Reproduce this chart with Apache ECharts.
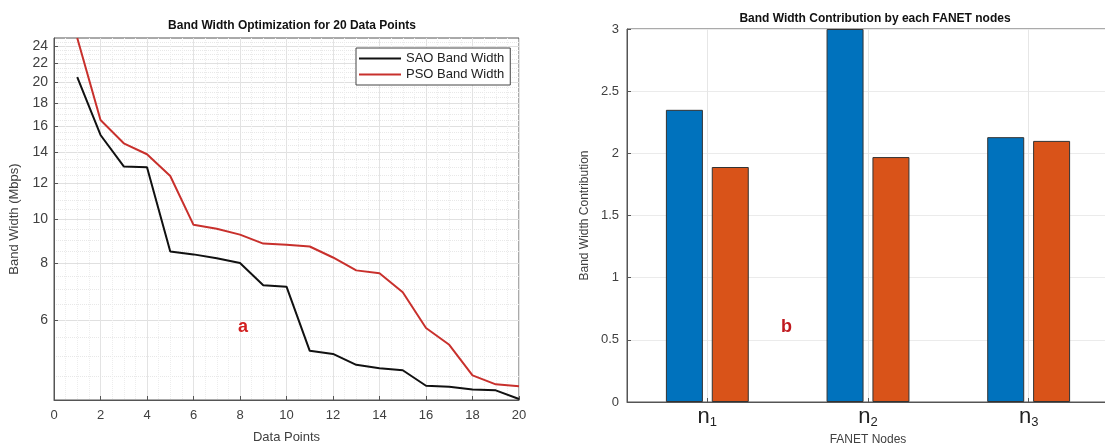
<!DOCTYPE html>
<html>
<head>
<meta charset="utf-8">
<script src="https://cdn.jsdelivr.net/npm/echarts@6/dist/echarts.min.js"></script>
<style>
  html, body { margin: 0; padding: 0; background: #fff; }
  #main { width: 1105px; height: 446px; }
</style>
</head>
<body>
<div id="main"></div>
<script>
// left chart: band width per data point (log y)
var dataPoints = [1, 2, 3, 4, 5, 6, 7, 8, 9, 10, 11, 12, 13, 14, 15, 16, 17, 18, 19, 20];
var saoBand = [20.5, 15.3, 13.05, 13.0, 8.48, 8.36, 8.2, 8.0, 7.15, 7.1, 5.13, 5.05, 4.78, 4.7, 4.65, 4.3, 4.28, 4.22, 4.2, 4.02];
var psoBand = [25, 16.5, 14.67, 13.88, 12.43, 9.71, 9.52, 9.24, 8.83, 8.78, 8.7, 8.23, 7.71, 7.6, 6.9, 5.76, 5.29, 4.53, 4.33, 4.29];
var yTicksLeft = [6, 8, 10, 12, 14, 16, 18, 20, 22, 24];

// right chart: contribution per FANET node
var nodes = ["n1", "n2", "n3"];
var saoContrib = [2.35, 3.0, 2.13];
var psoContrib = [1.89, 1.97, 2.1];

var yMinorLeft = [];
for (var v = 4.5; v < 25; v += 0.5) {
  if (yTicksLeft.indexOf(v) < 0) yMinorLeft.push(v);
}

var font = "Liberation Sans, Arial, sans-serif";
var txt = "#404040";

(function () {
  var myChart = echarts.init(document.getElementById("main"));

  function pairs(vals) {
    return vals.map(function (y, i) {
      return [dataPoints[i], y];
    });
  }
  function nodePairs(vals) {
    return vals.map(function (y, i) {
      return [i + 1, y];
    });
  }

  var option = {
    animation: false,
    textStyle: { fontFamily: font },
    title: [
      {
        text: "Band Width Optimization for 20 Data Points",
        left: 287,
        top: 15,
        textAlign: "center",
        textStyle: { fontSize: 12, fontWeight: "bold", color: "#111", fontFamily: font },
      },
      {
        text: "Band Width Contribution by each FANET nodes",
        left: 870,
        top: 8,
        textAlign: "center",
        textStyle: { fontSize: 12, fontWeight: "bold", color: "#111", fontFamily: font },
      },
    ],
    legend: {
      data: ["SAO Band Width", "PSO Band Width"],
      orient: "vertical",
      left: 356,
      top: 48,
      icon: "rect",
      itemWidth: 42,
      itemHeight: 2,
      itemGap: 3,
      padding: [4, 6, 4, 3],
      borderColor: "#444",
      borderWidth: 1,
      backgroundColor: "#fff",
      textStyle: { fontSize: 13, color: "#222", fontFamily: font },
    },
    grid: [
      { left: 54, right: 586, top: 38, bottom: 46, outerBoundsMode: "none", show: true, borderColor: "#555", borderWidth: 1 },
      { left: 627, right: -4, top: 29, bottom: 44, outerBoundsMode: "none", show: true, borderColor: "#555", borderWidth: 1 },
    ],
    xAxis: [
      {
        gridIndex: 0,
        type: "value",
        min: 0,
        max: 20,
        interval: 2,
        name: "Data Points",
        nameLocation: "middle",
        nameGap: 31,
        nameTextStyle: { fontSize: 13, color: txt },
        axisLine: { lineStyle: { color: "#555" } },
        axisTick: { inside: true, length: 4, lineStyle: { color: "#555" } },
        axisLabel: { fontSize: 13, color: txt, margin: 9 },
        splitLine: { show: true, lineStyle: { color: "#e3e3e3" } },
        minorTick: { show: false, splitNumber: 4 },
        minorSplitLine: { show: true, lineStyle: { color: "#ededed", type: "dotted" } },
      },
      {
        gridIndex: 1,
        type: "value",
        min: 0.5,
        max: 3.5,
        name: "FANET Nodes",
        nameLocation: "middle",
        nameGap: 29,
        nameTextStyle: { fontSize: 12, color: txt },
        axisLine: { lineStyle: { color: "#555" } },
        axisTick: { inside: true, length: 4, customValues: [1, 2, 3], lineStyle: { color: "#555" } },
        axisLabel: {
          customValues: [1, 2, 3],
          margin: 2,
          formatter: function (val) {
            var n = nodes[Math.round(val) - 1];
            return "{n|" + n.charAt(0) + "}{s|" + n.slice(1) + "}";
          },
          rich: {
            n: { fontSize: 22, color: "#222", fontFamily: font },
            s: { fontSize: 13, color: "#222", fontFamily: font, padding: [12, 0, 0, 0] },
          },
        },
        splitLine: { show: true, lineStyle: { color: "#e6e6e6" } },
      },
    ],
    yAxis: [
      {
        gridIndex: 0,
        type: "log",
        logBase: 10,
        min: 4,
        max: 25,
        name: "Band Width (Mbps)",
        nameLocation: "middle",
        nameGap: 33,
        nameTextStyle: { fontSize: 13, color: txt },
        axisLine: { lineStyle: { color: "#555" } },
        axisTick: { inside: true, length: 4, customValues: yTicksLeft, lineStyle: { color: "#555" } },
        axisLabel: { customValues: yTicksLeft, fontSize: 14, color: txt, margin: 6 },
        splitLine: { show: true, lineStyle: { color: "#e0e0e0" } },
      },
      {
        gridIndex: 0,
        type: "log",
        logBase: 10,
        min: 4,
        max: 25,
        axisLine: { show: false },
        axisTick: { show: false, customValues: yMinorLeft },
        axisLabel: { show: false, customValues: yMinorLeft },
        splitLine: { show: true, lineStyle: { color: "#e8e8e8", type: "dotted" } },
      },
      {
        gridIndex: 1,
        type: "value",
        min: 0,
        max: 3,
        interval: 0.5,
        name: "Band Width Contribution",
        nameLocation: "middle",
        nameGap: 36,
        nameTextStyle: { fontSize: 12, color: txt },
        axisLine: { lineStyle: { color: "#555" } },
        axisTick: { inside: true, length: 4, lineStyle: { color: "#555" } },
        axisLabel: { fontSize: 13, color: txt, margin: 8 },
        splitLine: { show: true, lineStyle: { color: "#ebebeb" } },
      },
    ],
    series: [
      {
        name: "SAO Band Width",
        type: "line",
        xAxisIndex: 0,
        yAxisIndex: 0,
        symbol: "none",
        lineStyle: { color: "#111", width: 2 },
        itemStyle: { color: "#111" },
        data: pairs(saoBand),
      },
      {
        name: "PSO Band Width",
        type: "line",
        xAxisIndex: 0,
        yAxisIndex: 0,
        symbol: "none",
        lineStyle: { color: "#c8302c", width: 2 },
        itemStyle: { color: "#c8302c" },
        data: pairs(psoBand),
      },
      {
        name: "SAO",
        type: "bar",
        xAxisIndex: 1,
        yAxisIndex: 2,
        barWidth: 37,
        barGap: "24%",
        itemStyle: { color: "#0072BD", borderColor: "#333", borderWidth: 1 },
        data: nodePairs(saoContrib),
      },
      {
        name: "PSO",
        type: "bar",
        xAxisIndex: 1,
        yAxisIndex: 2,
        barWidth: 37,
        barGap: "24%",
        itemStyle: { color: "#D95319", borderColor: "#333", borderWidth: 1 },
        data: nodePairs(psoContrib),
      },
    ],
    graphic: [
      {
        type: "text",
        left: 238,
        top: 318,
        z: 100,
        style: { text: "a", fill: "#d21f1f", font: "bold 18px " + font },
      },
      {
        type: "text",
        left: 781,
        top: 318,
        z: 100,
        style: { text: "b", fill: "#c0191f", font: "bold 18px " + font },
      },
    ],
  };

  myChart.setOption(option);
  window.addEventListener("resize", function () {
    myChart.resize();
  });
})();
</script>
</body>
</html>
